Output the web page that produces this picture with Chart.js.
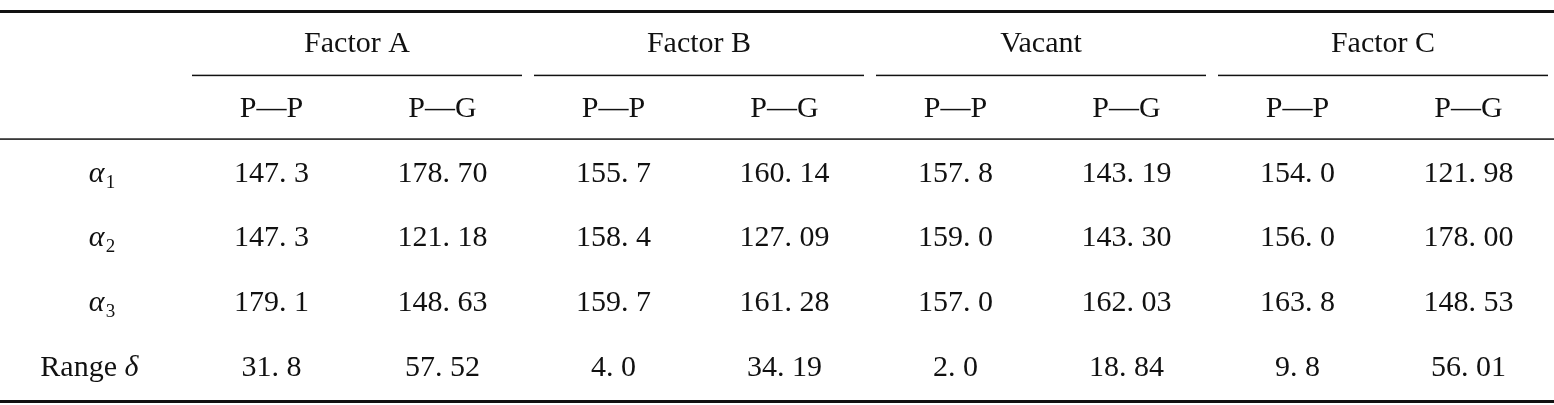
<!DOCTYPE html>
<html>
<head>
<meta charset="utf-8">
<script src="https://cdn.jsdelivr.net/npm/chart.js@4/dist/chart.umd.min.js"></script>
<style>
  body { margin: 0; background: #fff; }
  #wrap { width: 1554px; height: 405px; }
</style>
</head>
<body>
<div id="wrap"><canvas id="tbl"></canvas></div>
<script>
// table data
const groups = ['Factor A', 'Factor B', 'Vacant', 'Factor C'];
const subHeads = ['P—P', 'P—G'];
const rowLabels = ['α1', 'α2', 'α3', 'Range δ'];
const factorA_PP = ['147.3', '147.3', '179.1', '31.8'];
const factorA_PG = ['178.70', '121.18', '148.63', '57.52'];
const factorB_PP = ['155.7', '158.4', '159.7', '4.0'];
const factorB_PG = ['160.14', '127.09', '161.28', '34.19'];
const vacant_PP = ['157.8', '159.0', '157.0', '2.0'];
const vacant_PG = ['143.19', '143.30', '162.03', '18.84'];
const factorC_PP = ['154.0', '156.0', '163.8', '9.8'];
const factorC_PG = ['121.98', '178.00', '148.53', '56.01'];

const columns = [factorA_PP, factorA_PG, factorB_PP, factorB_PG, vacant_PP, vacant_PG, factorC_PP, factorC_PG];
const colKeys = ['lbl', 'c1', 'c2', 'c3', 'c4', 'c5', 'c6', 'c7', 'c8'];
const rowKeys = ['group', 'sub', 'r1', 'r2', 'r3', 'r4'];

const fmt = s => s.replace('.', '. ');
const FONT = '"Liberation Serif", "DejaVu Serif", serif';

const tablePlugin = {
  id: 'tablePlugin',
  afterDraw(chart) {
    const ctx = chart.ctx;
    const xs = chart.scales.x, ys = chart.scales.y;
    const colW = xs.getPixelForValue(1) - xs.getPixelForValue(0);
    const rowH = ys.getPixelForValue(1) - ys.getPixelForValue(0);
    const left = 0, right = chart.width;
    ctx.save();
    ctx.fillStyle = '#111';
    ctx.textAlign = 'center';
    ctx.textBaseline = 'middle';
    ctx.font = '30px ' + FONT;

    // group headers
    groups.forEach((g, i) => {
      const x1 = xs.getPixelForValue(1 + i * 2), x2 = xs.getPixelForValue(2 + i * 2);
      ctx.fillText(g, (x1 + x2) / 2, ys.getPixelForValue(0));
      const yl = ys.getPixelForValue(0) + rowH / 2 - 2;
      ctx.fillRect(x1 - colW / 2 + 6, yl, x2 - x1 + colW - 12, 1.5);
    });
    // sub headers
    for (let c = 1; c <= 8; c++) {
      ctx.fillText(subHeads[(c - 1) % 2], xs.getPixelForValue(c), ys.getPixelForValue(1));
    }
    // rows
    rowLabels.forEach((lab, r) => {
      const y = ys.getPixelForValue(2 + r);
      const x = xs.getPixelForValue(0);
      if (lab.startsWith('α')) {
        ctx.font = 'italic 30px ' + FONT;
        ctx.fillText('α', x - 4, y);
        ctx.font = '19px ' + FONT;
        ctx.fillText(lab.slice(1), x + 10, y + 9);
      } else {
        ctx.font = '30px ' + FONT;
        ctx.textAlign = 'right';
        ctx.fillText('Range ', x + 24, y);
        ctx.textAlign = 'left';
        ctx.font = 'italic 30px ' + FONT;
        ctx.fillText('δ', x + 24, y);
        ctx.textAlign = 'center';
      }
      ctx.font = '30px ' + FONT;
      columns.forEach((col, c) => {
        ctx.fillText(fmt(col[r]), xs.getPixelForValue(c + 1), y);
      });
    });
    // rules
    const top = ys.getPixelForValue(0) - rowH / 2 - 2;
    const bot = ys.getPixelForValue(5) + rowH / 2;
    ctx.fillRect(left, top, right - left, 3);
    ctx.fillRect(left, bot, right - left, 3);
    ctx.fillRect(left, ys.getPixelForValue(1) + rowH / 2 - 3, right - left, 1.5);
    ctx.restore();
  }
};

new Chart(document.getElementById('tbl'), {
  type: 'scatter',
  data: { datasets: [{ data: [] }] },
  options: {
    responsive: true,
    maintainAspectRatio: false,
    animation: false,
    layout: { padding: { left: 15, right: 0, top: 12, bottom: 5 } },
    plugins: { legend: { display: false }, tooltip: { enabled: false } },
    scales: {
      x: { type: 'category', labels: colKeys, offset: true, display: false },
      y: { type: 'category', labels: rowKeys, offset: true, display: false }
    }
  },
  plugins: [tablePlugin]
});
</script>
</body>
</html>
